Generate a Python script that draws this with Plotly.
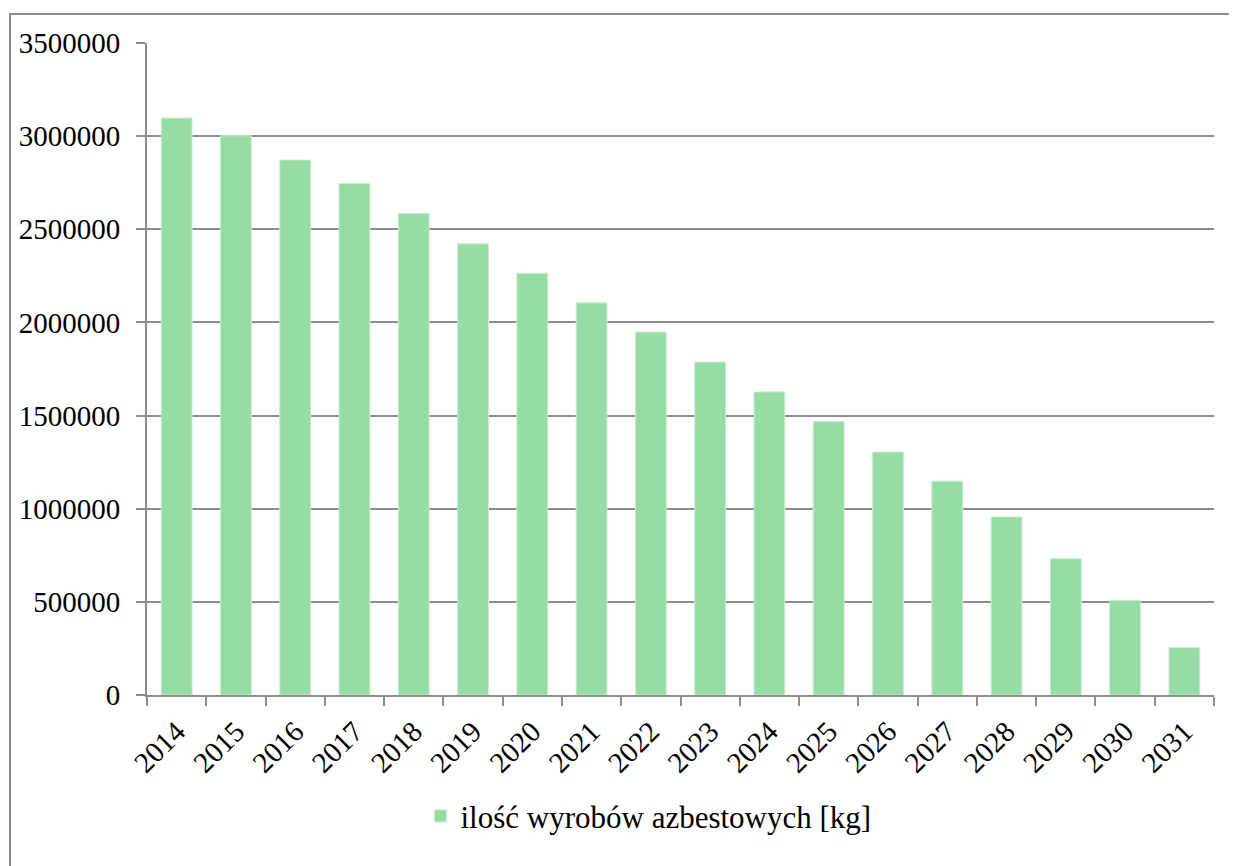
import plotly.graph_objects as go

years = ["2014", "2015", "2016", "2017", "2018", "2019", "2020", "2021", "2022",
         "2023", "2024", "2025", "2026", "2027", "2028", "2029", "2030", "2031"]
values = [3097000, 3002000, 2872000, 2746000, 2585000, 2422000, 2264000, 2105000, 1948000,
          1787000, 1627000, 1468000, 1304000, 1148000, 956000, 732000, 508000, 254000]
series_name = "ilość wyrobów azbestowych [kg]"

FONT = "Liberation Serif"
GRID = "#8c8c8c"

fig = go.Figure()
fig.add_trace(go.Bar(
    x=years, y=values, name=series_name,
    marker=dict(color="#98dca5", line=dict(color="#c8eecf", width=1)),
))

fig.update_layout(
    width=1237, height=866,
    margin=dict(l=139, r=31, t=35, b=179, autoexpand=False),
    paper_bgcolor="white", plot_bgcolor="white",
    bargap=0.48,
    font=dict(family=FONT, size=29, color="black"),
    showlegend=True,
    legend=dict(orientation="h", x=0.47, xanchor="center", y=-0.186, yanchor="middle",
                font=dict(family=FONT, size=31), itemwidth=30),
    xaxis=dict(type="category", tickangle=-45, tickson="boundaries", ticks="outside",
               ticklen=9, tickcolor=GRID, tickwidth=2, showline=True, linecolor=GRID,
               linewidth=2, showgrid=False, automargin=False, ticklabelstandoff=6,
               tickfont=dict(family=FONT, size=29)),
    yaxis=dict(range=[0, 3500000], dtick=500000, tickformat="d", ticks="outside",
               ticklen=9, tickcolor=GRID, tickwidth=2, showline=True, linecolor=GRID,
               linewidth=2, showgrid=True, gridcolor=GRID, gridwidth=2,
               zeroline=False, automargin=False, ticklabelstandoff=10,
               tickfont=dict(family=FONT, size=29)),
    shapes=[dict(type="rect", xref="paper", yref="paper",
                 x0=-0.1284, x1=1.06, y0=-0.3, y1=1.0445,
                 line=dict(color=GRID, width=2), fillcolor="rgba(0,0,0,0)", layer="below")],
)

fig.write_html("out.html")
